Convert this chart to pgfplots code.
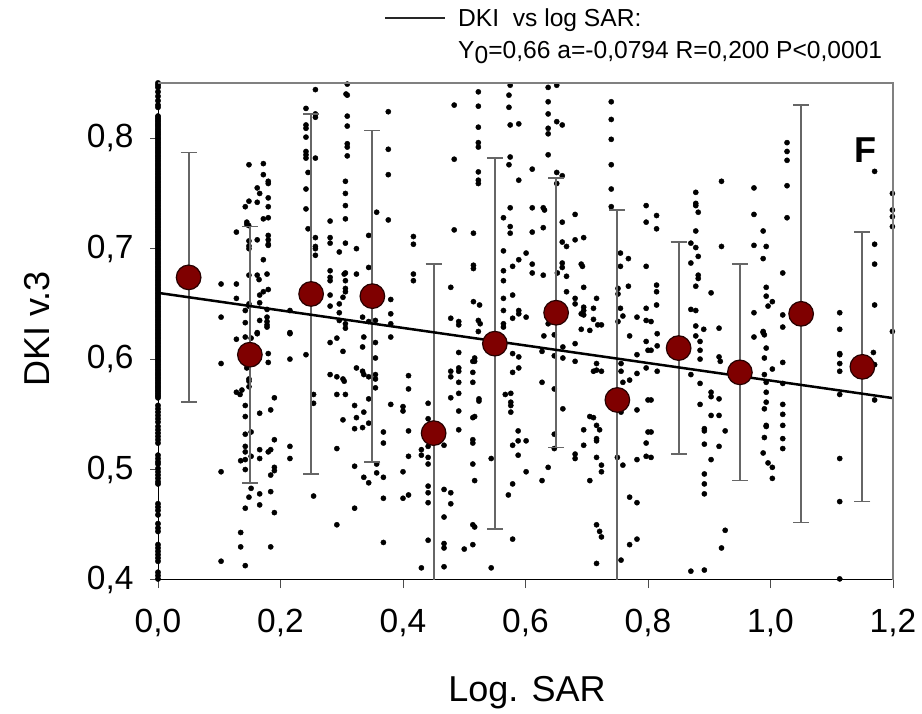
\documentclass[border=0pt]{standalone}
\usepackage{fontspec}
\setmainfont{Liberation Sans}
\usepackage{pgfplots}
\pgfplotsset{compat=1.18}
\definecolor{meanred}{HTML}{7F0000}
\begin{document}
\begin{tikzpicture}
\path[use as bounding box] (0,0) rectangle (922pt,713pt);
\begin{axis}[
  name=ax,
  at={(158pt,133pt)}, anchor=south west,
  scale only axis, width=735pt, height=497pt,
  xmin=0, xmax=1.2, ymin=0.4, ymax=0.85,
  axis x line*=bottom, axis y line*=left,
  axis line style={-, black, line width=1pt},
  xtick={0,0.2,0.4,0.6,0.8,1.0,1.2},
  ytick={0.4,0.5,0.6,0.7,0.8},
  tick align=outside, tick style={black!70, line width=1pt},
  major tick length=8pt,
  tick label style={font=\fontsize{33.5}{36}\selectfont},
  /pgf/number format/.cd, use comma, fixed, fixed zerofill, precision=1, assume math mode=true,
  /pgfplots/.cd,
  clip mode=individual,
  xticklabel shift=18pt, yticklabel shift=13pt,
]
% column at log SAR = 0
\addplot[only marks, mark=*, mark size=2.7pt, black] coordinates {
(0,.85)(0,.848)(0,.846)(0,.842)(0,.838)(0,.834)(0,.830)(0,.828)(0,.820)(0,.817)(0,.814)(0,.811)(0,.808)(0,.805)(0,.802)(0,.799)(0,.796)(0,.793)(0,.790)(0,.787)(0,.784)(0,.781)(0,.778)(0,.775)(0,.772)(0,.769)(0,.766)(0,.763)(0,.760)(0,.757)(0,.754)(0,.751)(0,.748)(0,.745)(0,.742)(0,.739)(0,.736)(0,.733)(0,.730)(0,.727)(0,.724)(0,.721)(0,.718)(0,.715)(0,.712)(0,.709)(0,.706)(0,.703)(0,.700)(0,.697)(0,.694)(0,.691)(0,.688)(0,.685)(0,.682)(0,.679)(0,.676)(0,.673)(0,.670)(0,.667)(0,.664)(0,.661)(0,.658)(0,.655)(0,.652)(0,.649)(0,.646)(0,.643)(0,.640)(0,.637)(0,.634)(0,.631)(0,.628)(0,.625)(0,.622)(0,.619)(0,.616)(0,.613)(0,.610)(0,.607)(0,.604)(0,.601)(0,.598)(0,.595)(0,.592)(0,.589)(0,.586)(0,.583)(0,.580)(0,.577)(0,.574)(0,.571)(0,.568)(0,.565)(0,.558)(0,.555)(0,.552)(0,.549)(0,.546)(0,.543)(0,.539)(0,.536)(0,.533)(0,.530)(0,.527)(0,.524)(0,.513)(0,.510)(0,.507)(0,.505)(0,.501)(0,.498)(0,.495)(0,.492)(0,.489)(0,.487)(0,.469)(0,.466)(0,.463)(0,.459)(0,.451)(0,.447)(0,.444)(0,.432)(0,.429)(0,.426)(0,.423)(0,.420)(0,.417)(0,.407)(0,.404)(0,.401)
(0,.8185)(0,.8125)(0,.8065)(0,.8005)(0,.7945)(0,.7885)(0,.7825)(0,.7765)(0,.7705)(0,.7645)(0,.7585)(0,.7525)(0,.7465)(0,.7405)(0,.7345)(0,.7285)(0,.7225)(0,.7165)(0,.7105)(0,.7045)(0,.6985)(0,.6925)(0,.6865)(0,.6805)(0,.6745)(0,.6685)(0,.6625)(0,.6565)(0,.6505)(0,.6445)(0,.6385)(0,.6325)(0,.6265)(0,.6205)(0,.6145)(0,.6085)(0,.6025)(0,.5965)(0,.5905)(0,.5845)(0,.5785)(0,.5725)(0,.5665)
(0,.8155)(0,.8095)(0,.8035)(0,.7975)(0,.7915)(0,.7855)(0,.7795)(0,.7735)(0,.7675)(0,.7615)(0,.7555)(0,.7495)(0,.7435)(0,.7375)(0,.7315)(0,.7255)(0,.7195)(0,.7135)(0,.7075)(0,.7015)(0,.6955)(0,.6895)(0,.6835)(0,.6775)(0,.6715)(0,.6655)(0,.6595)(0,.6535)(0,.6475)(0,.6415)(0,.6355)(0,.6295)(0,.6235)(0,.6175)(0,.6115)(0,.6055)(0,.5995)(0,.5935)(0,.5875)(0,.5815)(0,.5755)(0,.5695)
};
% scatter
\addplot[only marks, mark=*, mark size=2.6pt, black] coordinates {
(.1485,.776)(.172,.777)(.172,.767)(.180,.761)(.180,.759)(.180,.746)(.180,.738)(.180,.728)(.180,.712)(.180,.708)(.180,.704)(.180,.703)
(.162,.755)(.162,.742)(.162,.708)(.166,.750)(.1485,.743)(.1425,.738)(.172,.727)(.145,.724)(.145,.722)(.148,.721)(.128,.715)(.1485,.707)(.1485,.7025)(.1485,.700)(.172,.690)(.1485,.676)(.162,.676)(.165,.672)(.178,.677)
(.103,.668)(.103,.638)(.128,.668)(.128,.655)(.180,.663)(.172,.661)(.166,.658)(.1485,.650)(.1485,.648)(.166,.651)(.1425,.644)(.1425,.633)(.178,.645)(.178,.638)(.178,.634)(.178,.631)(.178,.629)(.166,.635)(.162,.624)(.2154,.644)(.2154,.624)
(.162,.623)(.128,.618)(.1425,.620)(.152,.619)(.2154,.623)(.2154,.600)(.103,.596)(.180,.605)(.180,.597)(.145,.592)(.1485,.582)(.1485,.580)(.1485,.575)(.128,.570)(.134,.568)(.137,.572)(.19,.565)(.1425,.558)(.1425,.548)(.184,.554)(.166,.551)(.152,.534)(.1425,.532)(.19,.527)(.1425,.521)(.1425,.516)(.166,.518)(.184,.518)(.180,.516)(.2154,.521)(.2154,.510)(.152,.512)(.135,.508)(.1425,.509)(.166,.510)(.1425,.500)(.103,.498)(.19,.502)(.19,.499)(.184,.495)(.152,.483)(.1485,.475)(.166,.478)(.166,.468)(.184,.480)(.1425,.465)(.19,.461)(.135,.443)(.135,.430)(.184,.430)(.103,.417)(.1425,.413)
(.2416,.604)(.254,.568)(.254,.560)(.254,.476)(.281,.615)(.281,.586)(.292,.619)(.292,.584)(.292,.568)(.292,.519)(.292,.450)(.302,.607)(.302,.582)(.304,.580)(.302,.545)(.306,.568)(.324,.592)(.324,.547)(.334,.611)(.334,.589)(.334,.538)(.336,.620)(.336,.586)(.336,.552)(.336,.493)(.321,.558)(.321,.537)(.321,.503)(.321,.465)(.344,.584)(.344,.564)(.344,.488)(.355,.615)(.355,.601)(.355,.586)(.355,.582)(.355,.574)(.344,.542)(.38,.620)(.38,.559)(.368,.534)(.368,.524)(.368,.493)(.368,.474)(.368,.434)(.357,.505)(.357,.497)
(.257,.844)(.2416,.827)(.2416,.812)(.2416,.809)(.2416,.801)(.2416,.788)(.2416,.785)(.2416,.782)(.245,.769)(.2416,.754)(.2416,.736)(.245,.718)(.257,.822)(.257,.819)(.257,.782)(.257,.710)(.257,.702)(.257,.700)(.257,.694)
(.309,.849)(.309,.839)(.307,.840)(.309,.820)(.309,.811)(.309,.795)(.309,.792)(.309,.784)(.306,.761)(.306,.750)(.306,.739)(.306,.727)(.306,.705)(.281,.725)(.281,.710)(.281,.705)(.281,.680)(.281,.674)(.281,.671)(.281,.658)(.281,.648)(.296,.697)(.296,.650)(.296,.642)(.296,.635)(.324,.700)(.324,.677)(.306,.678)(.304,.677)(.306,.671)(.306,.664)(.306,.661)(.302,.656)
(.376,.824)(.376,.790)(.376,.767)(.376,.726)(.357,.733)(.344,.712)(.344,.683)(.38,.654)(.38,.641)(.38,.632)(.334,.638)(.344,.634)(.355,.635)(.306,.632)(.306,.628)
(.4836,.830)(.4836,.781)(.4836,.717)(.523,.842)(.523,.829)(.523,.810)(.523,.796)(.523,.792)(.523,.7695)(.523,.762)(.523,.759)(.515,.714)(.515,.685)(.515,.682)(.515,.652)(.525,.649)(.417,.711)(.417,.704)(.417,.677)(.417,.671)
(.575,.848)(.573,.839)(.573,.828)(.575,.812)(.575,.783)(.573,.776)(.589,.813)(.589,.762)(.611,.772)(.611,.737)(.611,.715)(.611,.686)(.611,.678)(.575,.737)(.575,.720)(.575,.714)(.564,.728)(.564,.698)(.564,.671)(.564,.655)(.564,.644)(.601,.696)(.601,.638)(.589,.690)(.579,.684)(.579,.658)(.579,.637)(.564,.680)
(.637,.846)(.637,.833)(.637,.822)(.637,.809)(.637,.804)(.637,.785)(.651,.848)(.651,.815)(.651,.769)(.651,.759)(.660,.812)(.660,.766)(.660,.724)(.660,.706)(.629,.737)(.631,.735)(.629,.719)(.629,.676)(.667,.702)(.667,.675)(.667,.661)(.681,.731)(.681,.708)(.681,.655)(.681,.650)(.695,.710)(.695,.665)(.695,.647)(.695,.644)(.695,.640)(.660,.687)(.660,.683)(.652,.678)(.691,.686)(.693,.684)
(.740,.833)(.740,.817)(.740,.799)(.740,.776)(.740,.754)(.740,.738)(.797,.739)(.797,.724)(.797,.646)(.797,.635)(.755,.696)(.755,.684)(.768,.691)(.768,.666)(.797,.684)(.751,.664)(.751,.659)(.751,.634)(.716,.655)(.711,.646)(.711,.636)(.718,.631)(.724,.631)(.759,.639)(.755,.646)(.782,.638)(.478,.665)(.478,.637)(.491,.634)(.491,.631)(.523,.635)(.526,.632)(.523,.625)(.564,.632)(.564,.629)(.589,.644)(.589,.641)(.691,.641)(.691,.627)(.705,.626)(.637,.632)
(.409,.585)(.409,.573)(.409,.535)(.409,.512)(.409,.477)(.400,.557)(.400,.553)(.400,.498)(.400,.474)(.441,.560)(.441,.546)(.441,.521)(.441,.511)(.441,.505)(.441,.485)(.441,.479)(.441,.470)(.441,.436)(.430,.518)(.430,.513)(.430,.411)(.467,.522)(.467,.482)(.467,.457)(.467,.433)(.467,.429)(.467,.412)
(.478,.589)(.478,.584)(.478,.565)(.478,.479)(.478,.469)(.491,.606)(.491,.592)(.491,.589)(.491,.579)(.491,.569)(.491,.553)(.491,.536)(.514,.598)(.514,.588)(.514,.579)(.514,.547)(.514,.527)(.514,.524)(.514,.505)(.514,.450)(.514,.432)(.517,.601)(.517,.598)(.517,.548)(.517,.490)(.517,.448)(.524,.564)(.524,.562)(.500,.428)(.544,.510)(.544,.411)(.567,.568)(.576,.569)(.576,.561)(.576,.558)(.576,.552)(.588,.535)(.588,.526)(.588,.513)(.579,.605)(.579,.588)(.579,.522)(.579,.487)(.579,.437)(.572,.477)(.601,.526)(.601,.498)(.589,.602)(.589,.592)
(.637,.502)(.627,.579)(.627,.490)(.627,.607)(.630,.621)(.647,.622)(.647,.603)(.647,.573)(.647,.532)(.647,.519)(.661,.601)(.661,.555)(.661,.611)(.681,.598)(.681,.514)(.681,.510)(.681,.614)(.695,.536)(.695,.522)(.705,.548)(.705,.490)(.711,.547)(.716,.596)(.716,.540)(.716,.528)(.716,.526)(.716,.511)(.716,.450)(.716,.415)(.721,.536)(.721,.444)(.724,.504)(.724,.498)(.724,.439)(.716,.590)(.724,.589)(.711,.589)(.756,.596)(.756,.589)(.756,.418)(.756,.552)(.75,.511)(.759,.579)(.759,.504)(.77,.621)(.77,.581)(.77,.475)(.77,.432)(.782,.604)(.782,.587)(.782,.554)(.782,.509)(.782,.470)(.782,.437)(.797,.616)(.797,.592)(.797,.524)(.797,.512)(.80,.608)(.80,.563)(.80,.534)
(.814,.730)(.814,.718)(.814,.667)(.814,.661)(.814,.649)(.805,.634)(.870,.705)(.870,.687)(.870,.645)(.878,.751)(.878,.741)(.878,.739)(.882,.733)(.878,.716)(.878,.701)(.878,.666)(.878,.644)(.878,.630)(.882,.693)(.882,.676)(.882,.673)(.903,.660)(.920,.761)(.920,.702)(.916,.628)(.891,.627)
(.973,.755)(.973,.731)(.973,.703)(.973,.642)(.988,.716)(.988,.691)(.993,.702)(.993,.665)(.993,.657)(1.003,.652)(.996,.648)(.988,.625)(1.020,.678)(1.020,.640)(1.020,.629)(1.027,.796)(1.027,.788)(1.027,.780)(1.027,.757)(1.027,.728)(1.113,.642)(1.113,.627)(1.170,.770)(1.170,.704)(1.170,.686)(1.170,.649)(1.199,.750)(1.199,.735)(1.199,.729)(1.199,.720)(1.199,.625)
(.815,.623)(.815,.612)(.815,.589)(.805,.608)(.805,.563)(.805,.534)(.805,.511)(.878,.621)(.885,.616)(.885,.608)(.885,.600)(.870,.586)(.885,.578)(.885,.559)(.903,.570)(.903,.566)(.903,.549)(.903,.509)(.916,.602)(.918,.598)(.916,.564)(.916,.549)(.916,.521)(.926,.535)(.926,.445)(.892,.537)(.892,.535)(.892,.523)(.892,.496)(.892,.487)(.892,.478)(.892,.409)(.870,.408)(.920,.429)(.973,.620)(.988,.624)(.990,.622)(.993,.610)(.990,.601)(.990,.586)(.993,.579)(1.003,.591)(.993,.570)(.993,.561)(.990,.555)(.993,.540)(.993,.539)(.990,.529)(.988,.515)(.996,.506)(1.003,.502)(1.003,.492)(1.020,.597)(1.020,.578)(1.020,.559)(1.020,.550)(1.020,.540)(1.020,.528)(1.020,.519)(1.113,.605)(1.113,.604)(1.113,.596)(1.113,.589)(1.113,.568)(1.113,.510)(1.113,.471)(1.113,.401)(1.168,.606)(1.170,.595)(1.170,.563)
};
% error bars
\addplot[only marks, mark=none, draw=none,
  error bars/.cd, y dir=both, y explicit,
  error bar style={black!60, line width=2pt},
  error mark options={rotate=90, mark size=8pt, black!60, line width=1.6pt}]
coordinates {
(.05,.674)+-(0,.113)
(.15,.604)+-(0,.116)
(.25,.659)+-(0,.163)
(.35,.657)+-(0,.150)
(.55,.614)+-(0,.168)
(.65,.642)+-(0,.122)
(.85,.610)+-(0,.096)
(.95,.588)+-(0,.098)
(1.05,.641)+-(0,.189)
(1.15,.593)+-(0,.122)
};
% bars whose lower ends fall below the axis: drawn to the axis only
\addplot[only marks, mark=none, draw=none,
  error bars/.cd, y dir=plus, y explicit,
  error bar style={black!60, line width=2pt},
  error mark options={rotate=90, mark size=8pt, black!60, line width=1.6pt}]
coordinates {
(.45,.533)+-(0,.153)
(.75,.563)+-(0,.172)
};
\addplot[black!60, line width=2pt, forget plot] coordinates {(.45,.533)(.45,.4)};
\addplot[black!60, line width=2pt, forget plot] coordinates {(.75,.563)(.75,.4)};
% regression
\addplot[black, line width=2.5pt] coordinates {(0,.66)(1.2,.5647)};
% means
\addplot[only marks, mark=*, mark size=12.3pt, mark options={fill=meanred, draw=black!70!meanred, line width=1.2pt}] coordinates {
(.05,.674)(.15,.604)(.25,.659)(.35,.657)(.45,.533)(.55,.614)(.65,.642)(.75,.563)(.85,.610)(.95,.588)(1.05,.641)(1.15,.593)
};
\end{axis}
\draw[black!50, line width=1.8pt] (ax.north west) -- (ax.north east) -- (ax.south east);
\node[anchor=center, font=\fontsize{36}{38}\selectfont] at (527pt,20pt) {Log. SAR};
\node[anchor=center, rotate=90, font=\fontsize{36}{38}\selectfont] at (37pt,384pt) {DKI v.3};
\node[anchor=center, font=\bfseries\fontsize{36}{38}\selectfont] at (865pt,563pt) {F};
\draw[black!85, line width=2pt] (385pt,695pt) -- (445pt,695pt);
\node[anchor=base west, inner sep=0pt, font=\fontsize{24.6}{26}\selectfont] at (458pt,686pt) {DKI\ \ vs log SAR:};
\node[anchor=base west, inner sep=0pt, font=\fontsize{24.6}{26}\selectfont] at (458pt,654pt) {Y\raisebox{-5pt}{0}=0,66 a=-0,0794 R=0,200 P<0,0001};
\end{tikzpicture}
\end{document}
